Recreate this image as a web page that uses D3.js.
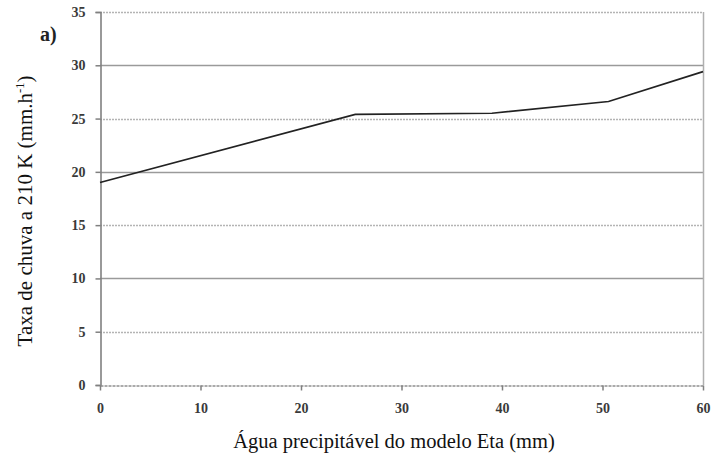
<!DOCTYPE html>
<html>
<head>
<meta charset="utf-8">
<script src="https://cdn.jsdelivr.net/npm/d3@7"></script>
<style>
  html, body { margin: 0; padding: 0; background: #fff; }
  svg { display: block; }
</style>
</head>
<body>
<svg id="chart" width="713" height="461"></svg>
<script>
// Precipitable water (mm) and rain rate at 210 K (mm/h)
const waterMm = [0, 25.4, 39, 50.6, 60];
const rainRate = [19.0, 25.4, 25.5, 26.6, 29.4];
const xTicks = [0, 10, 20, 30, 40, 50, 60];
const yTicks = [0, 5, 10, 15, 20, 25, 30, 35];
const solidGrid = [10, 20, 30];
const dottedGrid = [5, 15, 25, 35];

const svg = d3.select("#chart");
const margin = { left: 100, right: 10, top: 12, bottom: 76 };
const W = 713, H = 461;

const x = d3.scaleLinear().domain([0, 60]).range([margin.left, W - margin.right]);
const y = d3.scaleLinear().domain([0, 35]).range([H - margin.bottom, margin.top]);

const tickFont = "'Liberation Serif', 'Times New Roman', serif";

// horizontal grid lines
svg.append("g").selectAll("line.solid").data(solidGrid).join("line")
  .attr("x1", x(0)).attr("x2", x(60))
  .attr("y1", d => Math.round(y(d)) + 0.5).attr("y2", d => Math.round(y(d)) + 0.5)
  .attr("stroke", "#9a9a9a").attr("stroke-width", 1.6);

svg.append("g").selectAll("line.dot").data(dottedGrid).join("line")
  .attr("x1", x(0)).attr("x2", x(60))
  .attr("y1", d => Math.round(y(d)) + 0.5).attr("y2", d => Math.round(y(d)) + 0.5)
  .attr("stroke", "#b4b4b4").attr("stroke-width", 1.6)
  .attr("stroke-dasharray", "2,1");

// right border of the plot area
svg.append("line")
  .attr("x1", Math.round(x(60)) + 0.5).attr("x2", Math.round(x(60)) + 0.5)
  .attr("y1", y(35)).attr("y2", y(0))
  .attr("stroke", "#b0b0b0").attr("stroke-width", 1.5);

// y axis
const yAxis = d3.axisLeft(y).tickValues(yTicks).tickSize(5).tickPadding(10);
const gy = svg.append("g").attr("transform", `translate(${Math.round(x(0)) + 0.5},0)`).call(yAxis);
gy.select(".domain").attr("stroke", "#808080").attr("stroke-width", 1.6);
gy.selectAll(".tick line").attr("stroke", "#808080").attr("stroke-width", 1.5);
gy.selectAll(".tick text")
  .attr("font-family", tickFont).attr("font-weight", "bold")
  .attr("font-size", 14).attr("fill", "#3a3a3a");

// x axis
const xAxis = d3.axisBottom(x).tickValues(xTicks).tickSize(5).tickSizeOuter(0).tickPadding(13);
const gx = svg.append("g").attr("transform", `translate(0,${Math.round(y(0)) + 0.5})`).call(xAxis);
gx.select(".domain").attr("stroke", "#909090").attr("stroke-width", 1.6)
  .attr("stroke-dasharray", "3,1");
gx.selectAll(".tick line").attr("stroke", "#808080").attr("stroke-width", 1.5);
gx.selectAll(".tick text")
  .attr("font-family", tickFont).attr("font-weight", "bold")
  .attr("font-size", 14).attr("fill", "#3a3a3a");

// data line
const line = d3.line().x((d, i) => x(waterMm[i])).y(d => y(d));
svg.append("path")
  .datum(rainRate)
  .attr("d", line)
  .attr("fill", "none")
  .attr("stroke", "#222")
  .attr("stroke-width", 1.7);

// axis titles
svg.append("text")
  .attr("x", 394).attr("y", 448)
  .attr("text-anchor", "middle")
  .attr("font-family", tickFont).attr("font-size", 20.5).attr("fill", "#111")
  .text("Água precipitável do modelo Eta (mm)");

const yt = svg.append("text")
  .attr("transform", "translate(32,211) rotate(-90)")
  .attr("text-anchor", "middle")
  .attr("font-family", tickFont).attr("font-size", 21).attr("fill", "#111");
yt.append("tspan").text("Taxa de chuva a 210 K (mm.h");
yt.append("tspan").attr("font-size", 12.5).attr("dy", -8).text("-1");
yt.append("tspan").attr("dy", 8).text(")");

// panel label
svg.append("text")
  .attr("x", 40).attr("y", 41)
  .attr("font-family", tickFont).attr("font-weight", "bold")
  .attr("font-size", 20).attr("fill", "#222")
  .text("a)");
</script>
</body>
</html>
